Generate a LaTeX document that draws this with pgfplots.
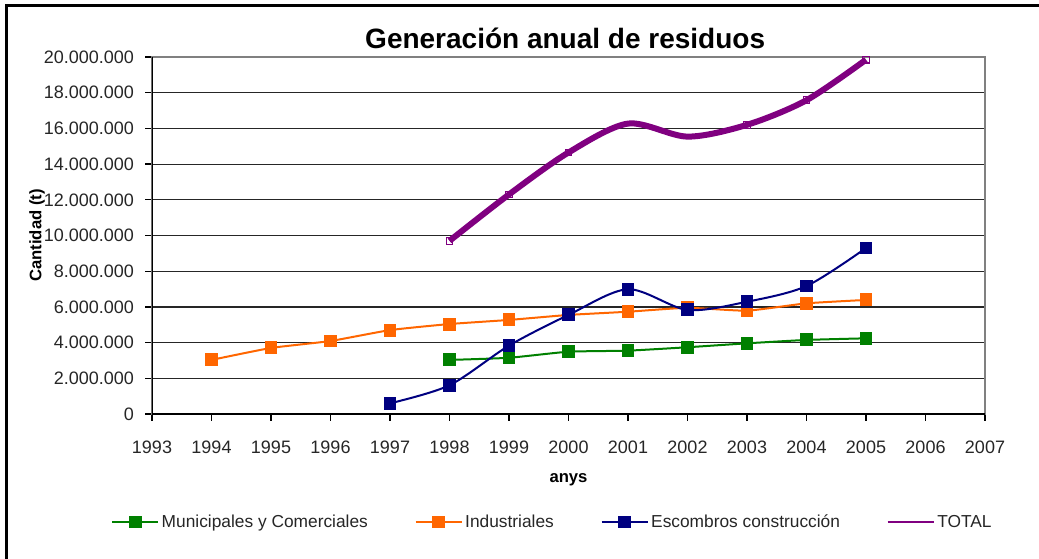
\documentclass[border=0pt]{standalone}
\usepackage{pgfplots}
\pgfplotsset{compat=1.18}
\usepackage{fontspec}
\setmainfont{Liberation Sans}
\definecolor{cgreen}{HTML}{008000}
\definecolor{corange}{HTML}{FF6600}
\definecolor{cnavy}{HTML}{000080}
\definecolor{cpurple}{HTML}{800080}
\begin{document}
\begin{tikzpicture}
\path[use as bounding box] (-114pt,-108pt) rectangle (665.25pt,310.5pt);
\draw[line width=2.25pt] (-108.75pt,-115pt) -- (-108.75pt,306.75pt) -- (670pt,306.75pt);
\begin{axis}[
  at={(0,0)}, anchor=south west,
  scale only axis, width=624.75pt, height=267.75pt,
  xmin=1993, xmax=2007, ymin=0, ymax=20000000,
  xtick={1993,1994,1995,1996,1997,1998,1999,2000,2001,2002,2003,2004,2005,2006,2007},
  ytick={0,2000000,4000000,6000000,8000000,10000000,12000000,14000000,16000000,18000000,20000000},
  scaled y ticks=false,
  /pgf/number format/assume math mode=true,
  yticklabel style={/pgf/number format/.cd, fixed, 1000 sep={.}, /tikz/.cd, xshift=-5pt},
  xticklabel style={/pgf/number format/1000 sep={}, yshift=-12pt},
  tick label style={font=\fontsize{13.5}{16}\selectfont, text=black!85},
  tick align=outside, major tick length=5pt,
  tick style={black, line width=1pt},
  xtick pos=bottom, ytick pos=left,
  axis line style={draw=black!50, line width=1.5pt},
  ymajorgrids, grid style={black!85, line width=0.9pt},
  title={Generación anual de residuos},
  title style={at={(0.496,1.03)}, anchor=center, font=\bfseries\fontsize{21}{24}\selectfont},
  xlabel={anys},
  xlabel style={at={(axis description cs:0.5,-0.185)}, anchor=center, font=\bfseries\fontsize{12.5}{15}\selectfont},
  ylabel={Cantidad (t)},
  ylabel style={at={(axis description cs:-0.138,0.5)}, anchor=center, font=\bfseries\fontsize{12.5}{15}\selectfont},
  legend columns=4,
  legend style={at={(0.481,-0.3025)}, anchor=center, draw=none, fill=none,
    font=\fontsize{13}{15}\selectfont, text=black!85,
    /tikz/every even column/.append style={column sep=33pt}},
  legend image code/.code={\draw[mark repeat=2,mark phase=2] plot coordinates {(0pt,0pt)(17.25pt,0pt)(34.5pt,0pt)};},
]
\draw[black, line width=1.5pt] (rel axis cs:0,1) -- (rel axis cs:0,0) -- (rel axis cs:1,0);
\addplot[cgreen, line width=1.5pt, smooth, tension=0.3, mark=square*, mark size=4.1pt, mark options={solid}] coordinates {
(1998,3030000) (1999,3150000) (2000,3490000) (2001,3550000) (2002,3740000) (2003,3960000) (2004,4150000) (2005,4240000)};
\addlegendentry{Municipales y Comerciales}
\addplot[corange, line width=1.5pt, smooth, tension=0.3, mark=square*, mark size=4.1pt, mark options={solid}] coordinates {
(1994,3030000) (1995,3700000) (1996,4090000) (1997,4700000) (1998,5040000) (1999,5270000) (2000,5550000) (2001,5730000) (2002,5950000) (2003,5790000) (2004,6200000) (2005,6390000)};
\addlegendentry{Industriales}
\addplot[cnavy, line width=1.5pt, smooth, tension=0.5, mark=square*, mark size=4.1pt, mark options={solid}] coordinates {
(1997,600000) (1998,1610000) (1999,3830000) (2000,5550000) (2001,6990000) (2002,5830000) (2003,6290000) (2004,7170000) (2005,9300000)};
\addlegendentry{Escombros construcción}
\addplot[cpurple, line width=4.5pt, smooth, tension=0.5, forget plot] coordinates {
(1998,9700000) (1999,12300000) (2000,14650000) (2001,16270000) (2002,15540000) (2003,16200000) (2004,17580000) (2005,19850000)};
\addplot[only marks, mark=square, mark size=2.5pt, mark options={draw=cpurple, fill=white, line width=0.8pt}, forget plot] coordinates {
(1998,9700000) (1999,12300000) (2000,14650000) (2003,16200000) (2004,17580000) (2005,19850000)};
\addlegendimage{cpurple, line width=1.5pt}
\addlegendentry{TOTAL}
\end{axis}
\end{tikzpicture}
\end{document}
